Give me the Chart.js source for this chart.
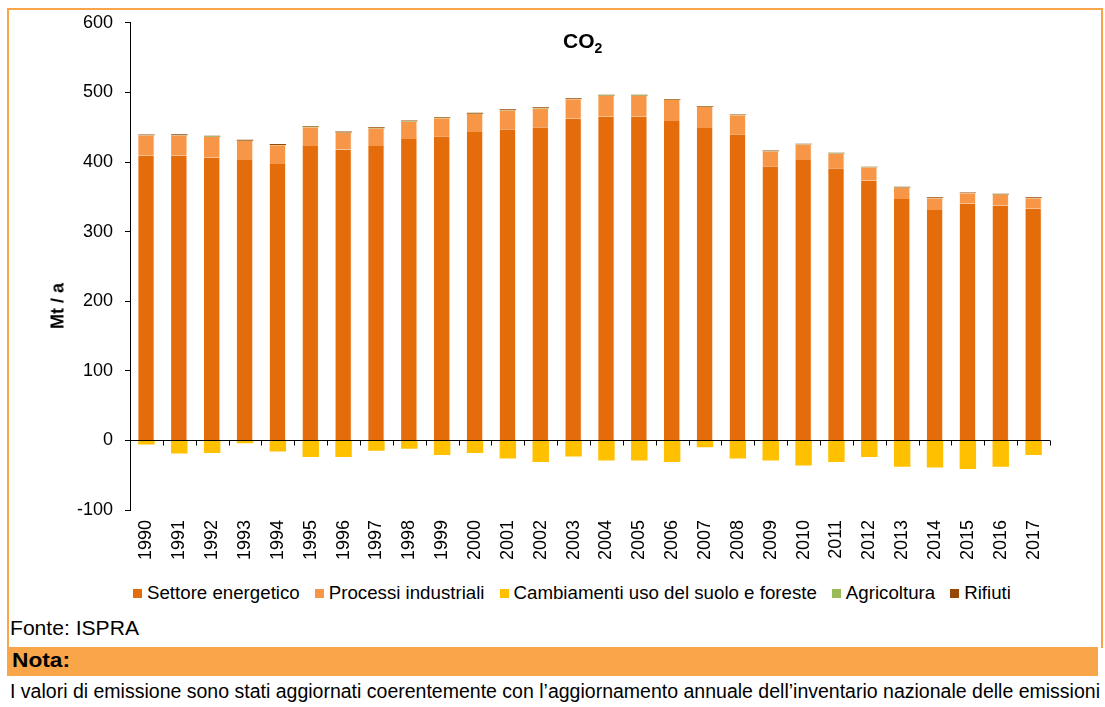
<!DOCTYPE html>
<html lang="it">
<head>
<meta charset="utf-8">
<title>Emissioni di CO2 per settore</title>
<script src="https://cdn.jsdelivr.net/npm/chart.js@4.4.1/dist/chart.umd.min.js"></script>
<style>
  html, body { margin: 0; padding: 0; background: #fff; }
  body { width: 1105px; height: 707px; position: relative; overflow: hidden;
         font-family: "Liberation Sans", Arial, sans-serif; color: #000; }
  #frame { position: absolute; left: 7px; top: 8px; width: 1096px; height: 640px;
           border: 2px solid #F9A64A; border-bottom: none; box-sizing: border-box; }
  #chartBox { position: absolute; left: 0; top: 0; width: 1105px; height: 575px; }
  #title { position: absolute; left: 563px; top: 29px; font-weight: bold; font-size: 21px; line-height: 24px; }
  #title sub { font-size: 14px; vertical-align: -5px; line-height: 0; }
  #ytitle { position: absolute; left: 58px; top: 306px; font-weight: bold; font-size: 18px;
            transform: translate(-50%, -50%) rotate(-90deg); white-space: nowrap; }
  #legend { position: absolute; left: 133px; top: 582px; display: flex; align-items: center;
            font-size: 18.7px; white-space: nowrap; }
  #legend .item { display: flex; align-items: center; margin-right: 15px; }
  #legend .box { width: 9px; height: 9px; margin-right: 5px; }
  .fit { position: absolute; white-space: nowrap; transform-origin: 0 50%; }
  #fonte { left: 10px; top: 617px; font-size: 20px; }
  #notaBar { position: absolute; left: 7px; top: 647px; width: 1091px; height: 29px; background: #F9A64A; }
  #nota { left: 12px; top: 649px; font-size: 20px; font-weight: bold; }
  #notaTxt { left: 10px; top: 680px; font-size: 20px; }
</style>
</head>
<body>
<div id="frame"></div>
<div id="chartBox"><canvas id="c" width="1105" height="575"></canvas></div>
<div id="title">CO<sub>2</sub></div>
<div id="ytitle">Mt / a</div>
<div id="legend"></div>
<div id="fonte" class="fit" data-w="129">Fonte: ISPRA</div>
<div id="notaBar"></div>
<div id="nota" class="fit" data-w="58">Nota:</div>
<div id="notaTxt" class="fit" data-w="1090">I valori di emissione sono stati aggiornati coerentemente con l’aggiornamento annuale dell’inventario nazionale delle emissioni</div>
<script>
// Emissioni di CO2 per settore (Mt/anno), 1990-2017
const years = ['1990','1991','1992','1993','1994','1995','1996','1997','1998','1999',
               '2000','2001','2002','2003','2004','2005','2006','2007','2008','2009',
               '2010','2011','2012','2013','2014','2015','2016','2017'];

const settoreEnergetico = [409, 409, 406, 403, 397, 423, 418, 423, 433, 437,
                           443, 447, 450, 462, 465, 465, 459, 449, 440, 394,
                           403, 391, 373, 347, 331, 340, 337, 333];

const processiIndustriali = [29, 29, 30, 27, 27, 27, 24, 25, 25, 26,
                             26, 27, 27, 28, 30, 30, 30, 30, 27, 21,
                             22, 21, 19, 16, 17, 15, 16, 15];

const cambiamentiUsoSuolo = [-6, -19, -18, -4, -16, -24, -24, -15, -12, -21,
                             -18, -26, -31, -23, -29, -29, -31, -10, -26, -29,
                             -36, -31, -24, -38, -39, -41, -38, -21];

const agricoltura = [0.6, 0.6, 0.6, 0.6, 0.6, 0.5, 0.5, 0.5, 0.5, 0.5,
                     0.5, 0.5, 0.5, 0.5, 0.5, 0.5, 0.5, 0.5, 0.4, 0.4,
                     0.4, 0.4, 0.4, 0.4, 0.4, 0.4, 0.4, 0.4];

const rifiuti = [1.0, 1.1, 1.1, 1.2, 1.2, 1.2, 1.3, 1.3, 1.3, 1.3,
                 1.3, 1.3, 1.3, 1.2, 1.2, 1.2, 1.1, 1.1, 1.0, 1.0,
                 1.0, 0.9, 0.9, 0.9, 0.9, 0.9, 0.9, 0.9];

const seriesLabels = ['Settore energetico', 'Processi industriali',
                      'Cambiamenti uso del suolo e foreste', 'Agricoltura', 'Rifiuti'];
const seriesColors = ['#E46C0A', '#F79646', '#FFC000', '#9BBB59', '#974806'];

const seriesData = [settoreEnergetico, processiIndustriali, cambiamentiUsoSuolo, agricoltura, rifiuti];

// Axis line through zero with category tick marks
const zeroAxis = {
  id: 'zeroAxis',
  afterDatasetsDraw(chart) {
    const { ctx, scales: { x, y }, chartArea } = chart;
    const y0 = Math.round(y.getPixelForValue(0)) + 0.5;
    const step = x.getPixelForValue(1) - x.getPixelForValue(0);
    ctx.save();
    ctx.strokeStyle = '#000';
    ctx.lineWidth = 1;
    ctx.beginPath();
    ctx.moveTo(chartArea.left, y0);
    ctx.lineTo(chartArea.right, y0);
    for (let i = 0; i <= years.length; i++) {
      const px = Math.round(x.getPixelForValue(i) - step / 2) + 0.5;
      ctx.moveTo(px, y0);
      ctx.lineTo(px, y0 + 5);
    }
    ctx.stroke();
    ctx.restore();
  }
};

const chart = new Chart(document.getElementById('c'), {
  type: 'bar',
  data: {
    labels: years,
    datasets: seriesData.map((d, i) => ({
      label: seriesLabels[i],
      data: d,
      backgroundColor: seriesColors[i],
      borderColor: 'rgba(255,235,215,0.55)',
      borderWidth: i < 2 ? { right: 1 } : 0,
      borderSkipped: false,
      categoryPercentage: 1,
      barPercentage: 0.5
    }))
  },
  options: {
    responsive: false,
    animation: false,
    events: [],
    layout: { padding: { top: 22, right: 55, left: 0, bottom: 0 } },
    plugins: { legend: { display: false }, title: { display: false }, tooltip: { enabled: false } },
    scales: {
      x: {
        stacked: true,
        grid: { display: false, drawTicks: false },
        border: { display: false },
        ticks: { color: '#000', font: { family: 'Liberation Sans', size: 18 },
                 minRotation: 90, maxRotation: 90, padding: 10, autoSkip: false },
        afterFit(scale) { scale.height = 65; }
      },
      y: {
        stacked: true,
        min: -100,
        max: 600,
        ticks: { stepSize: 100, color: '#000', font: { family: 'Liberation Sans', size: 18 }, padding: 12 },
        grid: { drawOnChartArea: false, tickLength: 5, color: '#000' },
        border: { display: true, color: '#000', width: 1 },
        afterFit(scale) { scale.width = 130; }
      }
    }
  },
  plugins: [zeroAxis]
});

// Legend built from the chart's datasets
const legend = document.getElementById('legend');
chart.data.datasets.forEach(ds => {
  const item = document.createElement('div');
  item.className = 'item';
  const box = document.createElement('span');
  box.className = 'box';
  box.style.background = ds.backgroundColor;
  const txt = document.createElement('span');
  txt.textContent = ds.label;
  item.appendChild(box);
  item.appendChild(txt);
  legend.appendChild(item);
});

// Fit condensed text lines to their widths
document.querySelectorAll('.fit').forEach(el => {
  const target = parseFloat(el.dataset.w);
  const w = el.getBoundingClientRect().width;
  if (w > 0) el.style.transform = 'scaleX(' + (target / w) + ')';
});
</script>
</body>
</html>
